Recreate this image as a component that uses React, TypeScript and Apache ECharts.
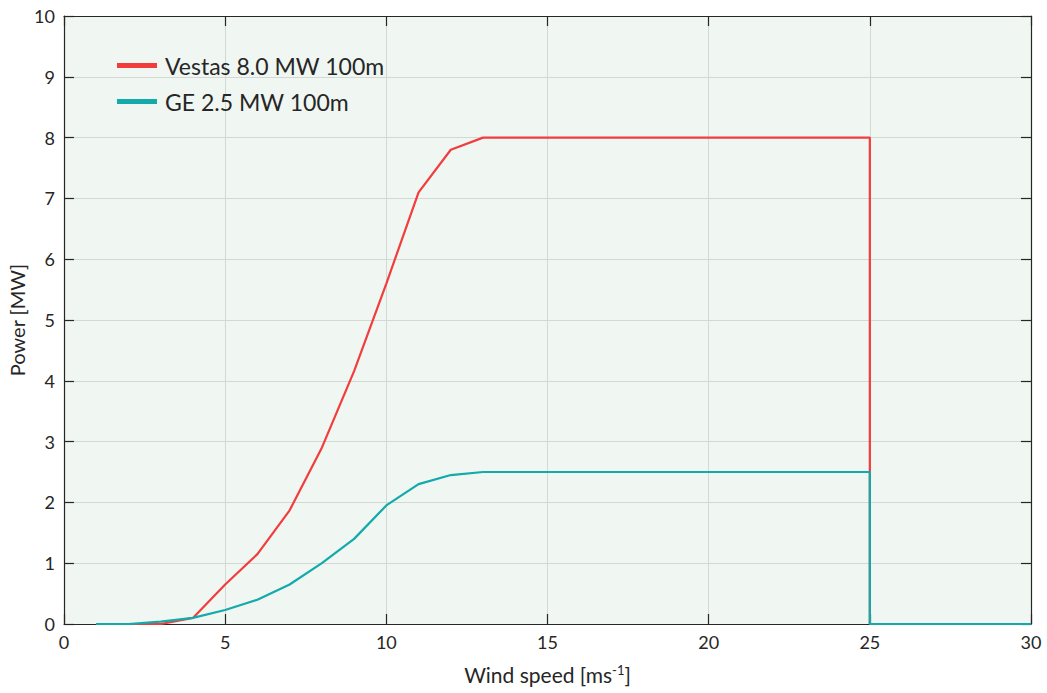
import React, { useEffect, useRef } from "react";
import * as echarts from "echarts";

const windSpeed = [1, 2, 3, 4, 5, 6, 7, 8, 9, 10, 11, 12, 13, 14, 15, 16, 17, 18, 19, 20, 21, 22, 23, 24, 25, 25, 30];
const vestas = [0, 0, 0, 0.1, 0.65, 1.15, 1.87, 2.9, 4.16, 5.6, 7.1, 7.8, 8, 8, 8, 8, 8, 8, 8, 8, 8, 8, 8, 8, 8, 0, 0];
const ge = [0, 0, 0.04, 0.1, 0.23, 0.4, 0.65, 1.0, 1.4, 1.95, 2.3, 2.45, 2.5, 2.5, 2.5, 2.5, 2.5, 2.5, 2.5, 2.5, 2.5, 2.5, 2.5, 2.5, 2.5, 0, 0];
const seriesNames = ["Vestas 8.0 MW 100m", "GE 2.5 MW 100m"];
const colors = ["#f23d3d", "#12aaaa"];

const FONT = "Lato, 'Noto Sans', sans-serif";
const AXIS = "#262626";

function ticks() {
  return { show: true, inside: true, length: 10, lineStyle: { color: AXIS, width: 1.2 } };
}
function line() {
  return { show: true, onZero: false, lineStyle: { color: AXIS, width: 1.2 } };
}

export default function App() {
  const ref = useRef<HTMLDivElement>(null);
  useEffect(() => {
    if (!ref.current) return;
    const chart = echarts.init(ref.current, undefined, { renderer: "svg" });
    chart.setOption({
      animation: false,
      textStyle: { fontFamily: FONT },
      grid: {
        left: 64,
        right: 16,
        top: 16,
        bottom: 69,
        show: true,
        backgroundColor: "#f0f6f2",
        borderWidth: 0,
        containLabel: false,
        outerBoundsMode: "none",
      },
      legend: {
        left: 112,
        top: 49,
        orient: "vertical",
        icon: "rect",
        itemWidth: 40,
        itemHeight: 5,
        itemGap: 13,
        textStyle: { fontSize: 23, color: "#262626", fontFamily: FONT, padding: [0, 0, 0, 3] },
        data: seriesNames,
      },
      xAxis: [
        {
          type: "value",
          min: 0,
          max: 30,
          interval: 5,
          name: "Wind speed [ms{sup|-1}]",
          nameLocation: "middle",
          nameGap: 39,
          nameTextStyle: {
            fontSize: 21,
            color: "#262626",
            fontFamily: FONT,
            rich: { sup: { fontSize: 13, verticalAlign: "top", padding: [0, 0, 10, 0], color: "#262626", fontFamily: FONT } },
          },
          axisLine: line(),
          axisTick: ticks(),
          axisLabel: { fontSize: 18, color: "#262626", margin: 9, fontFamily: FONT },
          splitLine: { show: true, lineStyle: { color: "#d3d8d4", width: 1 } },
        },
        {
          type: "value",
          position: "top",
          min: 0,
          max: 30,
          interval: 5,
          axisLine: line(),
          axisTick: ticks(),
          axisLabel: { show: false },
          splitLine: { show: false },
        },
      ],
      yAxis: [
        {
          type: "value",
          min: 0,
          max: 10,
          interval: 1,
          name: "Power [MW]",
          nameLocation: "middle",
          nameGap: 37,
          nameMoveOverlap: false,
          nameTextStyle: { fontSize: 20, color: "#262626", fontFamily: FONT },
          axisLine: line(),
          axisTick: ticks(),
          axisLabel: { fontSize: 18, color: "#262626", margin: 9, fontFamily: FONT },
          splitLine: { show: true, lineStyle: { color: "#d3d8d4", width: 1 } },
        },
        {
          type: "value",
          position: "right",
          min: 0,
          max: 10,
          interval: 1,
          axisLine: line(),
          axisTick: ticks(),
          axisLabel: { show: false },
          splitLine: { show: false },
        },
      ],
      series: [
        {
          name: seriesNames[0],
          type: "line",
          data: windSpeed.map((w, i) => [w, vestas[i]]),
          showSymbol: false,
          symbol: "none",
          lineStyle: { color: colors[0], width: 2.2 },
          itemStyle: { color: colors[0] },
          xAxisIndex: 0,
          yAxisIndex: 0,
        },
        {
          name: seriesNames[1],
          type: "line",
          data: windSpeed.map((w, i) => [w, ge[i]]),
          showSymbol: false,
          symbol: "none",
          lineStyle: { color: colors[1], width: 2.2 },
          itemStyle: { color: colors[1] },
          xAxisIndex: 0,
          yAxisIndex: 0,
        },
      ],
    });
    return () => chart.dispose();
  }, []);
  return <div ref={ref} style={{ width: 1047, height: 693, position: "absolute", left: 0, top: 0, background: "#fff" }} />;
}
